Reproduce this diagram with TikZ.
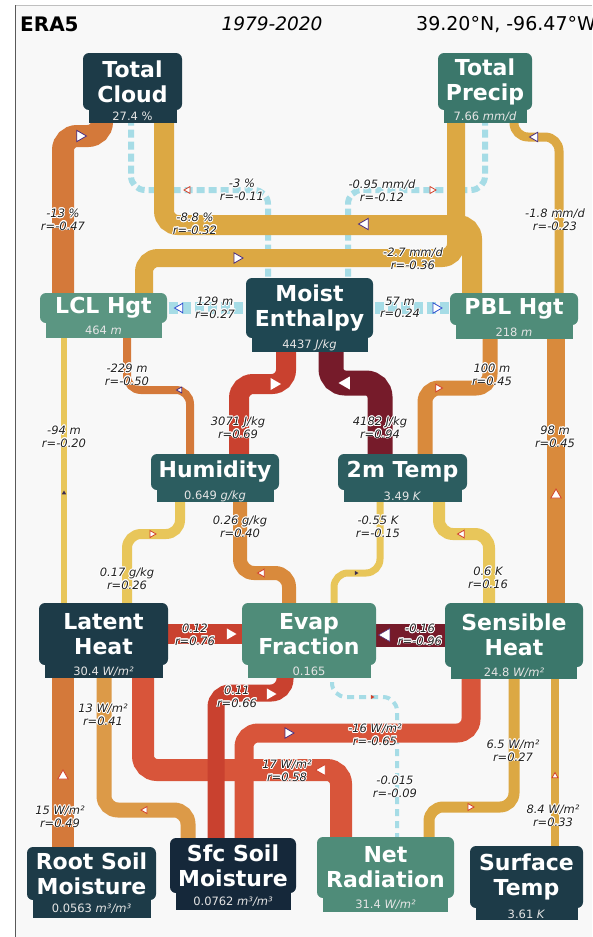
\documentclass[tikz,border=0pt]{standalone}
\usepackage{fontspec}
\setmainfont{DejaVu Sans}
\usepackage[copies]{contour}
\contourlength{0.8pt}
\usetikzlibrary{shapes.geometric}
\definecolor{eraBack}{HTML}{F8F8F8}
\definecolor{eraInk}{HTML}{222222}
\definecolor{eraNavy}{HTML}{15283A}
\definecolor{eraDark}{HTML}{1D3B48}
\definecolor{eraDeep}{HTML}{1F4752}
\definecolor{eraMid}{HTML}{2C5D60}
\definecolor{eraTeal}{HTML}{3B776B}
\definecolor{eraGreen}{HTML}{4F8C79}
\definecolor{eraSage}{HTML}{5B9682}
\definecolor{eraYellow}{HTML}{E8C65A}
\definecolor{eraGold}{HTML}{DCA843}
\definecolor{eraAmber}{HTML}{DC9A48}
\definecolor{eraOrange}{HTML}{D98A3C}
\definecolor{eraRust}{HTML}{D4793A}
\definecolor{eraCoral}{HTML}{D8553A}
\definecolor{eraRed}{HTML}{C9412F}
\definecolor{eraWine}{HTML}{761B2A}
\definecolor{eraSky}{HTML}{A6DCE6}
\definecolor{eraTipPurple}{HTML}{4A2C7E}
\definecolor{eraTipRed}{HTML}{D2402A}
\definecolor{eraTipBlue}{HTML}{2F4FCF}
\definecolor{eraTipDark}{HTML}{3B2B50}
\pgfdeclarelayer{back}
\pgfdeclarelayer{front}
\pgfsetlayers{back,main,front}
\newcommand{\elab}[2]{\contour{white}{#1}\\\contour{white}{r=#2}}

\begin{document}
\begin{tikzpicture}[x=1pt, y=-1pt,
        vbox/.style={
            rectangle,
            rounded corners=6pt,
            inner sep=0pt,
            align=center,
            text=white,
            font=\fontsize{22}{25}\selectfont\bfseries
        },
        vtab/.style={
            rectangle,
            sharp corners,
            anchor=north,
            yshift=0.5pt,
            inner sep=0pt,
            text=white!90!black,
            font=\fontsize{11.5}{13}\selectfont
        },
        pipe/.style={line cap=butt, rounded corners=14pt},
        wire/.style={pipe, draw=eraSky, dash pattern=on 8pt off 4pt},
        elabel/.style={
            font=\fontsize{11.5}{12.5}\selectfont\itshape,
            align=center,
            inner sep=0pt,
            text=eraInk
        },
        flow/.style={
            regular polygon,
            regular polygon sides=3,
            inner sep=0pt,
            solid,
            sharp corners,
            line width=0.8pt,
            fill=white
        },
        flowR/.style={flow, shape border rotate=-90},
        flowL/.style={flow, shape border rotate=90},
        flowU/.style={flow, shape border rotate=0}
    ]

    \useasboundingbox (0,0) rectangle (592,937);

    \begin{pgfonlayer}{back}
        \fill[white] (0,0) rectangle (592,937);
        \fill[eraBack] (15,5) rectangle (592,937);
        \draw[black!25, line width=0.8pt] (15,5) -- (592,5);
        \draw[black!65, line width=0.8pt] (15,5) -- (15,937);
    \end{pgfonlayer}

    % variables
    \begin{pgfonlayer}{front}
        \node[anchor=base west, inner sep=0pt, font=\fontsize{20}{24}\selectfont\bfseries] (hdrsrc) at (20,31) {ERA5};
        \node[anchor=base, inner sep=0pt, font=\fontsize{18.5}{22}\selectfont\itshape] (hdryears) at (272,30) {1979-2020};
        \node[anchor=base west, inner sep=0pt, font=\fontsize{19}{22}\selectfont] (hdrsite) at (416,30) {39.20°N, -96.47°W};

        \node[vbox, fill=eraDark, minimum width=99, minimum height=57] (tcloud) at (132.5,81.5) {Total\\Cloud};
        \node[vtab, fill=eraDark, minimum width=88, minimum height=13] (tcloudv) at (tcloud.south) {27.4 \%};

        \node[vbox, fill=eraTeal, minimum width=94, minimum height=57] (tprecip) at (485,81.5) {Total\\Precip};
        \node[vtab, fill=eraTeal, minimum width=83, minimum height=13] (tprecipv) at (tprecip.south) {7.66 \textit{mm/d}};

        \node[vbox, fill=eraSage, minimum width=127, minimum height=30] (lcl) at (103.5,308) {LCL Hgt};
        \node[vtab, fill=eraSage, minimum width=116, minimum height=15] (lclv) at (lcl.south) {464 \textit{m}};

        \node[vbox, fill=eraDeep, minimum width=127, minimum height=60] (menth) at (309.5,308) {Moist\\Enthalpy};
        \node[vtab, fill=eraDeep, minimum width=116, minimum height=14] (menthv) at (menth.south) {4437 \textit{J/kg}};

        \node[vbox, fill=eraGreen, minimum width=128, minimum height=32] (pbl) at (514,309) {PBL Hgt};
        \node[vtab, fill=eraGreen, minimum width=117, minimum height=14] (pblv) at (pbl.south) {218 \textit{m}};

        \node[vbox, fill=eraMid, minimum width=128, minimum height=36] (humid) at (215,472) {Humidity};
        \node[vtab, fill=eraMid, minimum width=117, minimum height=12] (humidv) at (humid.south) {0.649 \textit{g/kg}};

        \node[vbox, fill=eraMid, minimum width=129, minimum height=36] (t2m) at (402.5,472) {2m Temp};
        \node[vtab, fill=eraMid, minimum width=118, minimum height=12] (t2mv) at (t2m.south) {3.49 \textit{K}};

        \node[vbox, fill=eraDark, minimum width=129, minimum height=62] (latent) at (103.5,634) {Latent\\Heat};
        \node[vtab, fill=eraDark, minimum width=118, minimum height=13] (latentv) at (latent.south) {30.4 \textit{W/m²}};

        \node[vbox, fill=eraGreen, minimum width=134, minimum height=62] (evap) at (309,634) {Evap\\Fraction};
        \node[vtab, fill=eraGreen, minimum width=123, minimum height=13] (evapv) at (evap.south) {0.165};

        \node[vbox, fill=eraTeal, minimum width=138, minimum height=64] (sens) at (514,635) {Sensible\\Heat};
        \node[vtab, fill=eraTeal, minimum width=126, minimum height=12] (sensv) at (sens.south) {24.8 \textit{W/m²}};

        \node[vbox, fill=eraDark, minimum width=129, minimum height=53] (rsoil) at (91.5,873.5) {Root Soil\\Moisture};
        \node[vtab, fill=eraDark, minimum width=118, minimum height=18] (rsoilv) at (rsoil.south) {0.0563 \textit{m³/m³}};

        \node[vbox, fill=eraNavy, minimum width=126, minimum height=55] (ssoil) at (233,865.5) {Sfc Soil\\Moisture};
        \node[vtab, fill=eraNavy, minimum width=115, minimum height=17] (ssoilv) at (ssoil.south) {0.0762 \textit{m³/m³}};

        \node[vbox, fill=eraGreen, minimum width=137, minimum height=61] (netrad) at (385.5,867.5) {Net\\Radiation};
        \node[vtab, fill=eraGreen, minimum width=125, minimum height=14] (netradv) at (netrad.south) {31.4 \textit{W/m²}};

        \node[vbox, fill=eraDark, minimum width=113, minimum height=62] (stemp) at (526.5,877) {Surface\\Temp};
        \node[vtab, fill=eraDark, minimum width=102, minimum height=12] (stempv) at (stemp.south) {3.61 \textit{K}};
    \end{pgfonlayer}

    % weak links (dashed)
    \draw[wire, line width=6] ([xshift=-1.5]tcloud.center) |- (268,190) -- (268,0 |- menth.center)
        node[flowL, draw=eraTipRed, minimum size=8] at (188,190) {}
        node[elabel] at (242,190) {\elab{-3 \%}{-0.11}};
    \draw[wire, line width=6] (tprecip.center) |- (348,190) -- (348,0 |- menth.center)
        node[flowR, draw=eraTipRed, minimum size=8] at (432,190) {}
        node[elabel] at (382,191) {\elab{-0.95 mm/d}{-0.12}};
    \draw[wire, line width=12, dash pattern=on 9pt off 4pt] (lcl.center) -- (menth.center)
        node[flowL, draw=eraTipBlue, minimum size=11] at (180,308) {}
        node[elabel] at (215,308) {\elab{129 m}{0.27}};
    \draw[wire, line width=12, dash pattern=on 9pt off 4pt] (menth.center) -- (menth.center -| pbl.center)
        node[flowR, draw=eraTipBlue, minimum size=12] at (436,308) {}
        node[elabel] at (400,308) {\elab{57 m}{0.24}};
    \draw[wire, line width=4, dash pattern=on 7pt off 5pt] ([xshift=23]evap.center) |- (397,697) -- (397,0 |- netrad.center)
        node[flow, fill=eraTipRed, draw=none, shape border rotate=-90, minimum size=5] at (372,697) {}
        node[elabel] at (395,787) {\elab{-0.015}{-0.09}};

    % upper links
    \draw[pipe, draw=eraRust, line width=22] ([xshift=-30.5]tcloud.center) |- (63,136) -- (63,0 |- lcl.center)
        node[flowR, draw=eraTipPurple, minimum size=13] at (80,136) {}
        node[elabel] at (63,220) {\elab{-13 \%}{-0.47}};
    \draw[pipe, draw=eraGold, line width=20] ([xshift=31.5]tcloud.center) |- (472,225) -- (472,0 |- pbl.center)
        node[flowL, draw=eraTipPurple, minimum size=13] at (365,224) {}
        node[elabel] at (195,224) {\elab{-8.8 \%}{-0.32}};
    \draw[pipe, draw=eraGold, line width=18] ([xshift=-29]tprecip.center) |- (144,258) -- (144,0 |- lcl.center)
        node[flowR, draw=eraTipPurple, minimum size=12] at (237,258) {}
        node[elabel] at (413,259) {\elab{-2.7 mm/d}{-0.36}};
    \draw[pipe, draw=eraGold, line width=9] ([xshift=29]tprecip.center) |- (559,137) -- (559,0 |- pbl.center)
        node[flowL, draw=eraTipPurple, minimum size=11] at (535,137) {}
        node[elabel] at (555,220) {\elab{-1.8 mm/d}{-0.23}};

    % middle links
    \draw[pipe, draw=eraRust, line width=8] ([xshift=23.5]lcl.center) |- (190,390) -- (190,0 |- humid.center)
        node[flowL, draw=eraTipPurple, minimum size=7] at (180,390) {}
        node[elabel] at (127,375) {\elab{-229 m}{-0.50}};
    \draw[pipe, draw=eraYellow, line width=6] ([xshift=-39.5]lcl.center) -- ([xshift=-39.5]latent.center)
        node[flow, fill=eraTipDark, draw=none, minimum size=5] at (64,493) {}
        node[elabel] at (64,437) {\elab{-94 m}{-0.20}};
    \draw[pipe, draw=eraRed, line width=20] ([xshift=-23.5]menth.center) |- (239,384) -- (239,0 |- humid.center)
        node[flowR, draw=none, minimum size=14] at (274,384) {}
        node[elabel] at (238,428) {\elab{3071 J/kg}{0.69}};
    \draw[pipe, draw=eraWine, line width=25] ([xshift=21.5]menth.center) |- (380,383) -- (380,0 |- t2m.center)
        node[flowL, draw=none, minimum size=15] at (346,383) {}
        node[elabel] at (380,428) {\elab{4182 J/kg}{0.94}};
    \draw[pipe, draw=eraOrange, line width=15] ([xshift=-24]pbl.center) |- (425,388) -- (425,0 |- t2m.center)
        node[flowR, draw=eraTipRed, minimum size=9] at (438,388) {}
        node[elabel] at (492,375) {\elab{100 m}{0.45}};
    \draw[pipe, draw=eraOrange, line width=18] ([xshift=42]pbl.center) -- (556,0 |- sens.center)
        node[flowU, draw=eraTipRed, minimum size=12] at (556,495) {}
        node[elabel] at (555,437) {\elab{98 m}{0.45}};
    \draw[pipe, draw=eraYellow, line width=10] ([xshift=-35]humid.center) |- (127,534) -- (127,0 |- latent.center)
        node[flowR, draw=eraTipRed, minimum size=8] at (152,534) {}
        node[elabel] at (127,579) {\elab{0.17 g/kg}{0.26}};
    \draw[pipe, draw=eraOrange, line width=14] ([xshift=25]humid.center) |- (289,573) -- (289,0 |- evap.center)
        node[flowL, draw=eraTipRed, minimum size=9] at (262,573) {}
        node[elabel] at (240,527) {\elab{0.26 g/kg}{0.40}};
    \draw[pipe, draw=eraYellow, line width=7] ([xshift=-22.5]t2m.center) |- (334,573) -- (334,0 |- evap.center)
        node[flow, fill=eraTipDark, draw=none, shape border rotate=-90, minimum size=5] at (356,573) {}
        node[elabel] at (378,527) {\elab{-0.55 K}{-0.15}};
    \draw[pipe, draw=eraYellow, line width=12] ([xshift=36.5]t2m.center) |- (489,534) -- (489,0 |- sens.center)
        node[flowL, draw=eraTipRed, minimum size=9] at (462,534) {}
        node[elabel] at (488,578) {\elab{0.6 K}{0.16}};
    \draw[pipe, draw=eraRed, line width=20] (latent.center) -- (evap.center)
        node[flowR, draw=none, minimum size=13] at (230,634) {}
        node[elabel] at (195,635) {\elab{0.12}{0.76}};
    \draw[pipe, draw=eraWine, line width=23] (sens.center) -- (sens.center -| evap.center)
        node[flowL, draw=eraTipPurple, line width=0.5pt, minimum size=15] at (386,635) {}
        node[elabel] at (420,635) {\elab{-0.16}{-0.96}};

    % lower links
    \draw[pipe, draw=eraRust, line width=22] ([xshift=-40.5]latent.center) -- (63,0 |- rsoil.center)
        node[flowU, draw=eraTipRed, minimum size=12] at (63,776) {}
        node[elabel] at (60,817) {\elab{15 W/m²}{0.49}};
    \draw[pipe, draw=eraAmber, line width=15] ([xshift=0.5]latent.center) |- (188,810) -- (188,0 |- ssoil.center)
        node[flowL, draw=eraTipRed, minimum size=8] at (145,810) {}
        node[elabel] at (103,715) {\elab{13 W/m²}{0.41}};
    \draw[pipe, draw=eraCoral, line width=22] ([xshift=39.5]latent.center) |- (341,770) -- (341,0 |- netrad.center)
        node[flowL, draw=eraTipRed, minimum size=13] at (322,770) {}
        node[elabel] at (287,771) {\elab{17 W/m²}{0.58}};
    \draw[pipe, draw=eraRed, line width=17] ([xshift=-24]evap.center) |- (216,693) -- (216,0 |- ssoil.center)
        node[flowR, draw=none, minimum size=13] at (270,694) {}
        node[elabel] at (237,697) {\elab{0.11}{0.66}};
    \draw[pipe, draw=eraCoral, line width=19] ([xshift=-43]sens.center) |- (244,733) -- (244,0 |- ssoil.center)
        node[flowR, draw=eraTipPurple, minimum size=12] at (288,733) {}
        node[elabel] at (375,735) {\elab{-16 W/m²}{-0.65}};
    \draw[pipe, draw=eraGold, line width=11] (sens.center) |- (429,807) -- (429,0 |- netrad.center)
        node[flowR, draw=eraTipRed, minimum size=8] at (470,807) {}
        node[elabel] at (513,751) {\elab{6.5 W/m²}{0.27}};
    \draw[pipe, draw=eraGold, line width=8] ([xshift=41]sens.center) -- (555,0 |- stemp.center)
        node[flowU, draw=eraTipRed, minimum size=7] at (555,776) {}
        node[elabel] at (553,816) {\elab{8.4 W/m²}{0.33}};

\end{tikzpicture}
\end{document}
